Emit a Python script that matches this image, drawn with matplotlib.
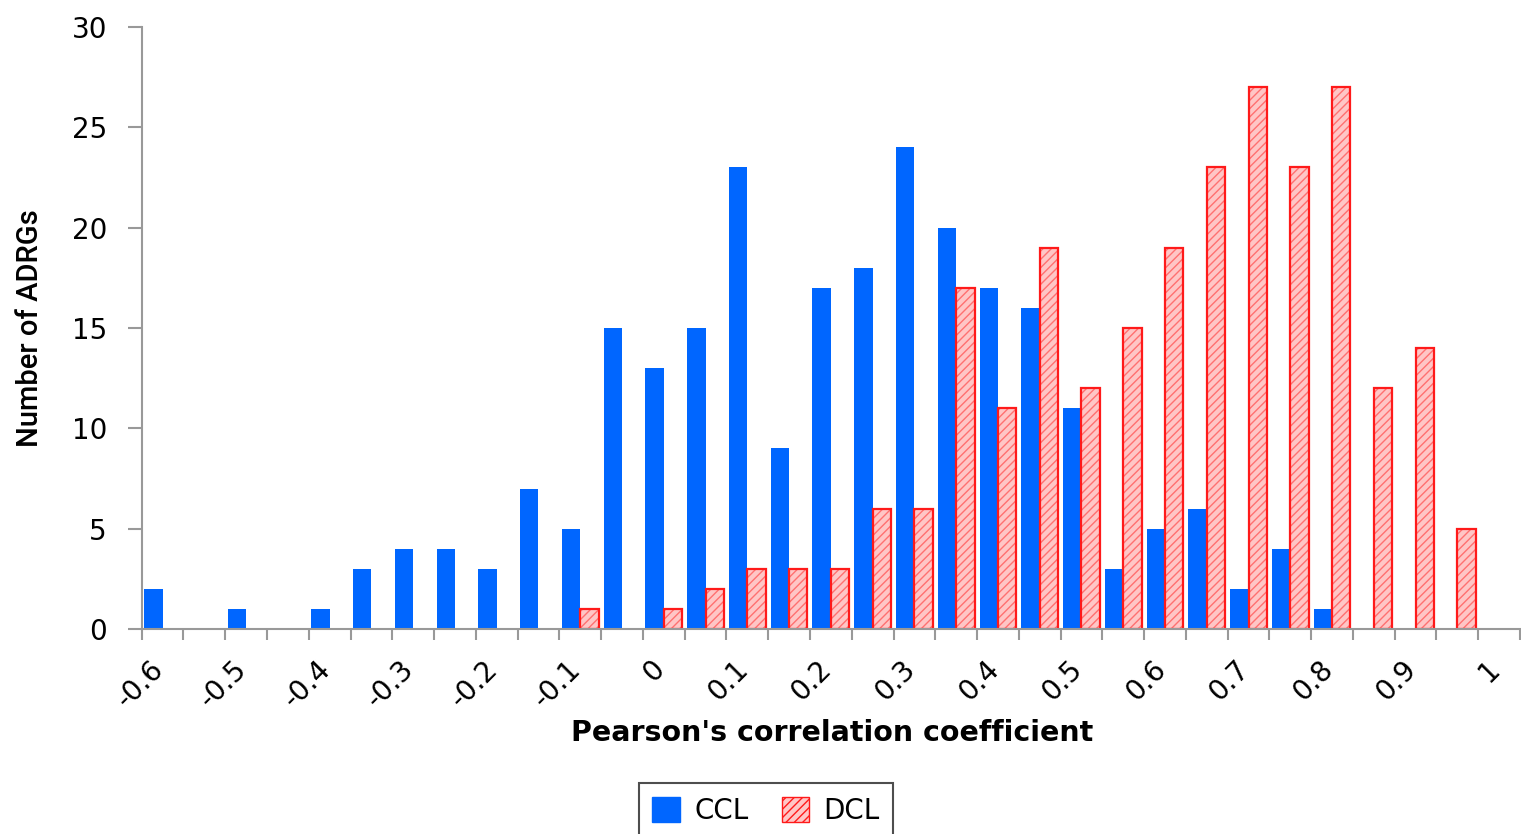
import matplotlib
matplotlib.use("Agg")
import matplotlib.pyplot as plt
from matplotlib.patches import Patch
import numpy as np

# --- Data --- #
bins = [-0.6, -0.55, -0.5, -0.45, -0.4, -0.35, -0.3, -0.25, -0.2, -0.15, -0.1,
        -0.05, 0, 0.05, 0.1, 0.15, 0.2, 0.25, 0.3, 0.35, 0.4, 0.45, 0.5,
        0.55, 0.6, 0.65, 0.7, 0.75, 0.8, 0.85, 0.9, 0.95, 1]
ccl = [2, 0, 1, 0, 1, 3, 4, 4, 3, 7, 5, 15, 13, 15, 23, 9, 17, 18, 24, 20,
       17, 16, 11, 3, 5, 6, 2, 4, 1, 0, 0, 0, 0]
dcl = [0, 0, 0, 0, 0, 0, 0, 0, 0, 0, 1, 0, 1, 2, 3, 3, 3, 6, 6, 17,
       11, 19, 12, 15, 19, 23, 27, 23, 27, 12, 14, 5, 0]
tick_labels = ["-0.6", "-0.5", "-0.4", "-0.3", "-0.2", "-0.1", "0", "0.1", "0.2",
               "0.3", "0.4", "0.5", "0.6", "0.7", "0.8", "0.9", "1"]

BLUE = "#0066ff"
RED = "#ff1a1a"

fig = plt.figure(figsize=(15.21, 8.34), dpi=100)
ax = fig.add_axes([141.7 / 1521, 1 - 629 / 834, (1520 - 141.7) / 1521, (629 - 27) / 834])

x = np.arange(len(bins))
w = 0.44
ax.bar(x - w / 2, ccl, width=w, color=BLUE, linewidth=0)
# hatched fill, then a red outline on top
ax.bar(x + w / 2, dcl, width=w, facecolor="#ffc6c6", edgecolor="#ff7070",
       hatch="////", linewidth=0)
dcl_edge = [v if v > 0 else np.nan for v in dcl]
ax.bar(x + w / 2, dcl_edge, width=w, fill=False, edgecolor=RED, linewidth=1.6)

ax.set_xlim(-0.5, len(bins) - 0.5)
ax.set_ylim(0, 30)
ax.set_yticks(range(0, 31, 5))

# ticks at category boundaries, labels on every other category
ax.set_xticks(np.arange(-0.5, len(bins), 1.0))
ax.set_xticklabels([])
ax.tick_params(axis="x", direction="out", length=8, width=1.5, color="#999999")
ax.tick_params(axis="y", direction="out", length=10, width=1.5, color="#999999",
               labelsize=20, pad=15)
for i, lab in enumerate(tick_labels):
    ax.text(2 * i + 0.15, -1.3, lab, rotation=45, ha="right", va="top",
            fontsize=20, transform=ax.transData)

for s in ["top", "right"]:
    ax.spines[s].set_visible(False)
for s in ["left", "bottom"]:
    ax.spines[s].set_color("#999999")
    ax.spines[s].set_linewidth(1.5)

ax.set_ylabel("Number of ADRGs", fontsize=21, family=["Roboto", "DejaVu Sans"],
              fontweight="medium", labelpad=20)
fig.text(832 / 1521, 1 - 733 / 834, "Pearson's correlation coefficient",
         ha="center", va="center", fontsize=20.5, fontweight="bold")

handles = [Patch(facecolor=BLUE, edgecolor=BLUE, label="CCL"),
           Patch(facecolor="#ffc6c6", edgecolor=RED, hatch="////", label="DCL")]
leg = fig.legend(handles=handles, loc="upper center", ncol=2,
                 bbox_to_anchor=(766 / 1521, 1 - 783 / 834), fontsize=20,
                 frameon=True, fancybox=False, edgecolor="#222222",
                 handlelength=1.0, handleheight=1.0, columnspacing=1.2,
                 handletextpad=0.5, borderpad=0.5, borderaxespad=0)
leg.get_frame().set_linewidth(1.5)

fig.savefig("out.png", dpi=100)
